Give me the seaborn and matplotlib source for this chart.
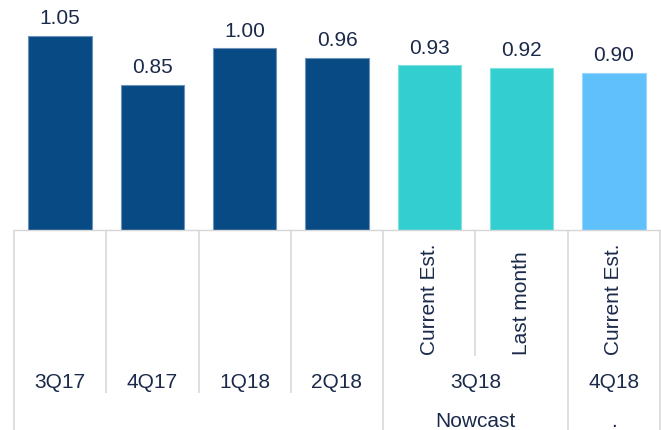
import matplotlib
matplotlib.use("Agg")
import matplotlib.pyplot as plt
import seaborn as sns
import numpy as np

# ---- data ----
categories = ["3Q17", "4Q17", "1Q18", "2Q18",
              "3Q18 Current Est.", "3Q18 Last month", "4Q18 Current Est."]
values = [1.05, 0.85, 1.00, 0.96, 0.93, 0.92, 0.90]
bar_quarter = ["3Q17", "4Q17", "1Q18", "2Q18", "3Q18", "3Q18", "4Q18"]
bar_estimate = ["", "", "", "", "Current Est.", "Last month", "Current Est."]
bar_group = ["", "", "", "", "Nowcast", "Nowcast", "."]
bar_colors = ["#084A83", "#084A83", "#084A83", "#084A83",
              "#33CFD0", "#33CFD0", "#5FC0FC"]
edge_colors = ["#6D93BA", "#6D93BA", "#6D93BA", "#6D93BA",
               "#7FE0E1", "#7FE0E1", "#9BD7FD"]

TEXT = "#1B2A4A"
GRID = "#D6D6D6"

sns.set_theme(style="white")
plt.rcParams["font.family"] = ["Liberation Sans", "DejaVu Sans"]

W, H = 661, 430
fig = plt.figure(figsize=(W / 100, H / 100), dpi=100)

left_px, right_px, base_px = 14, 660, 230
ax = fig.add_axes([left_px / W, 1 - base_px / H, (right_px - left_px) / W, base_px / H])

sns.barplot(x=categories, y=values, hue=categories, palette=bar_colors,
            legend=False, width=0.686, saturation=1, ax=ax)
for patch, ec in zip([p for c in ax.containers for p in c], edge_colors):
    patch.set_edgecolor(ec)
    patch.set_linewidth(0.8)

ax.set_xlim(-0.5, len(categories) - 0.5)
ymin = 0.258
ax.set_ylim(ymin, ymin + base_px / 245.0)
for c in ax.containers:
    ax.bar_label(c, fmt="%.2f", padding=5.5, fontsize=15, color=TEXT)
ax.set_xticks([])
ax.set_yticks([])
ax.set_xlabel("")
ax.set_ylabel("")
for s in ax.spines.values():
    s.set_visible(False)
ax.patch.set_alpha(0)

# ---- category table below the bars ----
tab = fig.add_axes([left_px / W, 0, (right_px - left_px) / W, (H - base_px) / H])
tab.set_xlim(-0.5, len(categories) - 0.5)
tab.set_ylim(H, base_px)  # pixel-like rows, downward
tab.axis("off")

n = len(categories)
tab.hlines(base_px, -0.5, n - 0.5, color=GRID, lw=1, clip_on=False)


def runs(labels):
    out = []
    start = 0
    for i in range(1, len(labels) + 1):
        if i == len(labels) or labels[i] != labels[start]:
            out.append((start, i - 1, labels[start]))
            start = i
    return out


group_runs = runs(bar_group)
quarter_runs = runs(bar_quarter)
group_edges = {-0.5} | {r[1] + 0.5 for r in group_runs}
quarter_edges = {-0.5} | {r[1] + 0.5 for r in quarter_runs}

for b in np.arange(-0.5, n, 1.0):
    if b in group_edges:
        y_end = H
    elif b in quarter_edges:
        y_end = 393
    else:
        y_end = 356
    tab.vlines(b, base_px, y_end, color=GRID, lw=1.1, clip_on=False)

# estimate labels (rotated)
for i, lab in enumerate(bar_estimate):
    if lab:
        tab.text(i, 355, lab, rotation=90, ha="center", va="bottom",
                 fontsize=15, color=TEXT)

# quarter labels
for s, e, lab in quarter_runs:
    tab.text((s + e) / 2, 382, lab, ha="center", va="center",
             fontsize=15, color=TEXT)

# group labels
for s, e, lab in group_runs:
    if lab:
        tab.text((s + e) / 2, 427, lab, ha="center", va="baseline",
                 fontsize=15, color=TEXT, clip_on=False)

fig.savefig("out.png", dpi=100)
